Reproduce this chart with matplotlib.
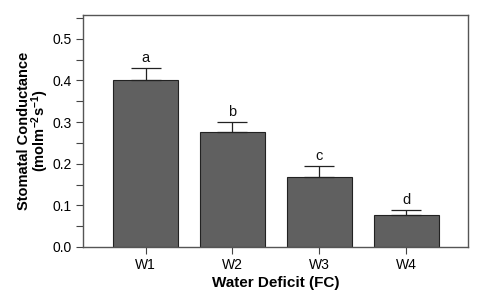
import matplotlib
matplotlib.use("Agg")
import matplotlib.pyplot as plt
from matplotlib.ticker import MultipleLocator

plt.rcParams['font.family'] = ['Liberation Sans', 'DejaVu Sans']
plt.rcParams['mathtext.default'] = 'regular'

categories = ["W1", "W2", "W3", "W4"]
values = [0.401, 0.276, 0.168, 0.078]
errors = [0.029, 0.023, 0.026, 0.011]
letters = ["a", "b", "c", "d"]

fig = plt.figure(figsize=(4.93, 2.99), dpi=100)
ax = fig.add_axes([83/493, 1-247/299, (468-83)/493, (247-15)/299])

x = list(range(len(categories)))
ax.bar(x, values, width=0.75, color="#606060", edgecolor="#222222", linewidth=0.8, zorder=2)
ax.errorbar(x, values, yerr=[[0]*len(errors), errors], fmt='none', ecolor="#222222",
            elinewidth=0.9, capsize=10.5, capthick=0.9, zorder=3)
for xi, v, e, l in zip(x, values, errors, letters):
    ax.text(xi, v + e + 0.008, l, ha='center', va='bottom', fontsize=10.5, color="#111111")

ax.set_xlim(-0.72, 3.71)
ax.set_ylim(0, 0.557)
ax.set_xticks(x)
ax.set_xticklabels(categories, fontsize=10)
ax.yaxis.set_major_locator(MultipleLocator(0.1))
ax.yaxis.set_minor_locator(MultipleLocator(0.05))
ax.set_yticks([0.0, 0.1, 0.2, 0.3, 0.4, 0.5])
ax.set_yticklabels(["0.0", "0.1", "0.2", "0.3", "0.4", "0.5"], fontsize=10)
ax.tick_params(axis='both', which='both', direction='out', length=5, width=0.8, color="#444444")
ax.tick_params(axis='both', pad=3)
for s in ax.spines.values():
    s.set_color("#555555")
    s.set_linewidth(1.0)

ax.set_xlabel("Water Deficit (FC)", fontsize=11, fontweight='bold', labelpad=3)
ax.set_ylabel("Stomatal Conductance\n(molm$^{-2}$s$^{-1}$)", fontsize=10.5,
              fontweight='bold', labelpad=1, linespacing=0.9)

fig.savefig("out.png", dpi=100)
